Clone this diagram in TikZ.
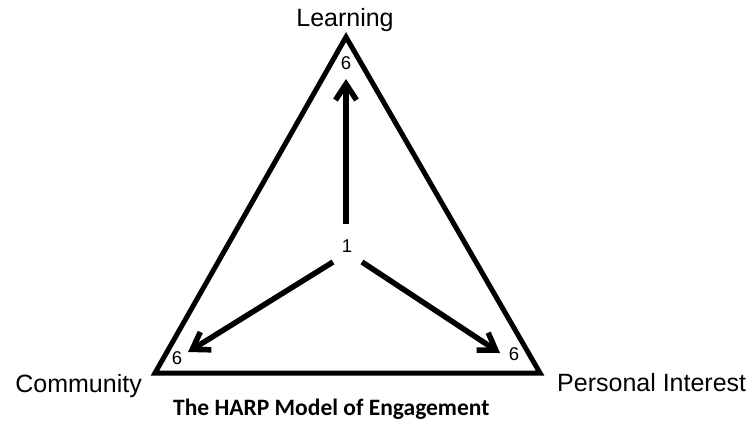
\documentclass[tikz,border=0pt]{standalone}
\usepackage{fontspec}
\setmainfont{Liberation Sans}
\newfontfamily\capfont{Carlito}
\usetikzlibrary{arrows.meta}
\begin{document}
\begin{tikzpicture}[x=1pt,y=-1pt,
  edge/.style={line width=5pt},
  arr/.style={line width=5.5pt,-{Straight Barb[length=16pt,width=21pt,line join=miter]}},
  lbl/.style={inner sep=0pt,font=\fontsize{25}{30}\selectfont},
  num/.style={inner sep=0pt,font=\fontsize{18.5}{22}\selectfont},
  captext/.style={inner sep=0pt,font=\capfont\bfseries\fontsize{23.5}{28}\selectfont}]
\useasboundingbox (0,0) rectangle (754,428);
\coordinate (A) at (346,37);
\coordinate (B) at (155,373);
\coordinate (C) at (540,373);
\draw[edge,line join=miter] (A) -- (B) -- (C) -- cycle;
\node[num] (n1) at (347,246) {1};
\node[num] (nt) at (346,63) {6};
\node[num] (nl) at (177,358) {6};
\node[num] (nr) at (514,354) {6};
\coordinate (s1) at (346,224);
\coordinate (s2) at (333,262);
\coordinate (s3) at (362,262);
\coordinate (t1) at (346,79);
\coordinate (t2) at (188,352);
\coordinate (t3) at (500,353);
\draw[arr] (s1) -- (t1);
\draw[arr] (s2) -- (t2);
\draw[arr] (s3) -- (t3);
\node[lbl,anchor=base] (L) at (345,27) {Learning};
\node[lbl,anchor=base east] (Cm) at (142,392) {Community};
\node[lbl,anchor=base west] (P) at (557,391) {Personal Interest};
\node[captext,anchor=base west] (T) at (173,415) {The HARP Model of Engagement};
\end{tikzpicture}
\end{document}
